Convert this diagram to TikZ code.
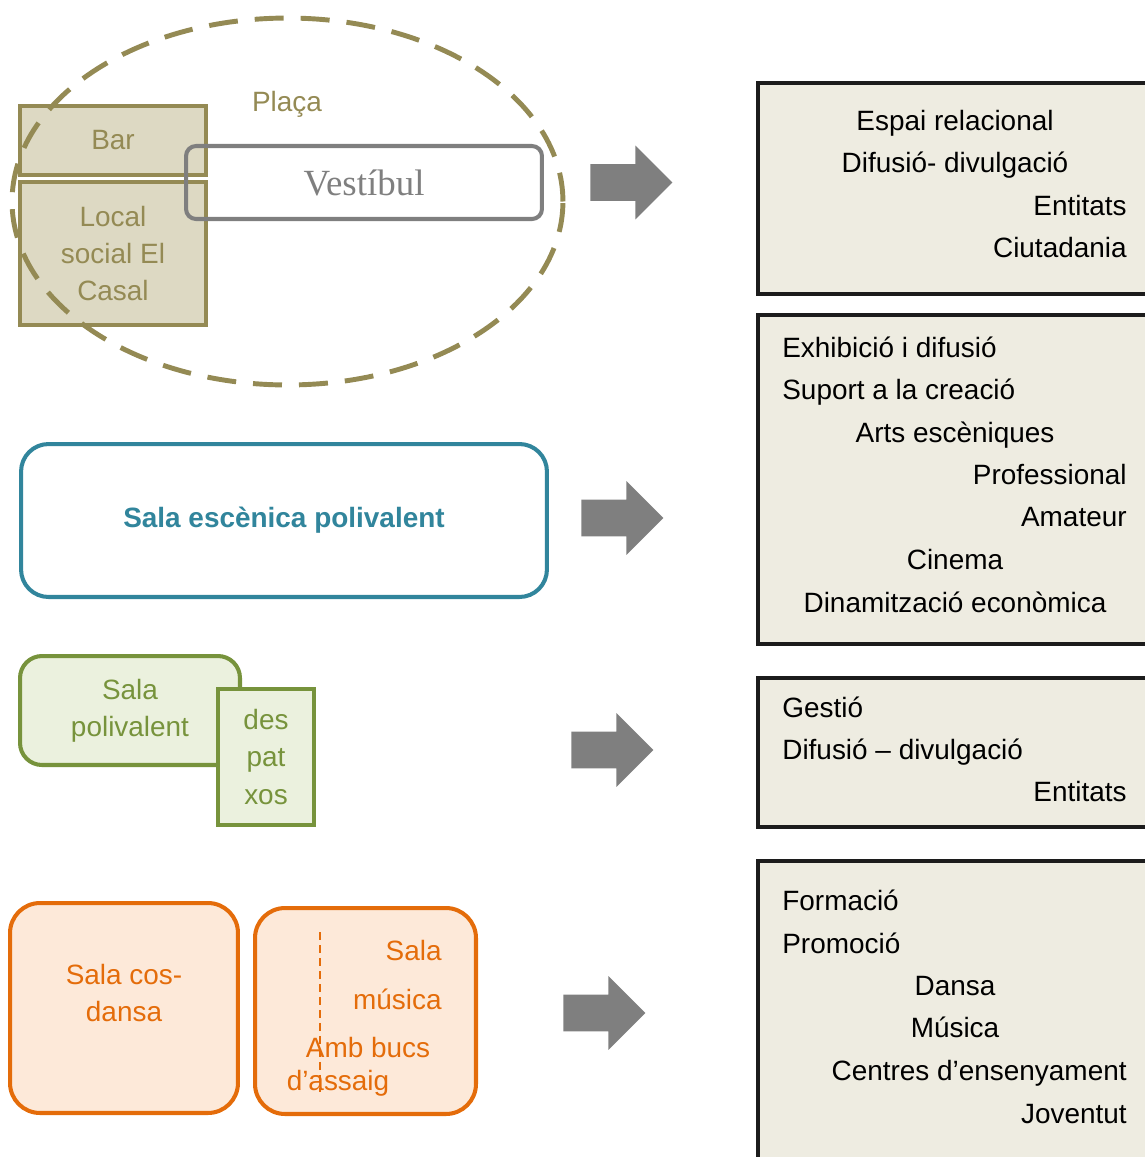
\documentclass[tikz,border=0pt]{standalone}
\usepackage{fontspec}
\setmainfont{Liberation Sans}
\newfontfamily\vestfont{Liberation Serif}
\usepackage{tikz}
\usetikzlibrary{shapes,positioning}
\definecolor{plazaline}{HTML}{948A54}
\definecolor{plazafill}{HTML}{DDD9C3}
\definecolor{hallgray}{HTML}{7F7F7F}
\definecolor{stageteal}{HTML}{31859C}
\definecolor{greenline}{HTML}{77933C}
\definecolor{greenfill}{HTML}{EBF1DE}
\definecolor{orangeline}{HTML}{E46C0A}
\definecolor{orangefill}{HTML}{FDE9D9}
\definecolor{infoline}{HTML}{1C1C1C}
\definecolor{infofill}{HTML}{EEECE1}
\newcommand{\mainsize}{\fontsize{15.9}{21.3}\selectfont}
\tikzset{room box/.style={rectangle, draw=plazaline, fill=plazafill, text=plazaline,
    line width=2.3pt, align=center}}
\tikzset{hall box/.style={rectangle, rounded corners=0.2cm, draw=hallgray, text=hallgray,
    line width=2.3pt, font=\vestfont\fontsize{21}{24}\selectfont}}
\tikzset{plaza outline/.style={ellipse, draw=plazaline, line width=2.8pt,
    dash pattern=on 0.58cm off 0.34cm}}
\tikzset{stage box/.style={rectangle, rounded corners=0.55cm, draw=stageteal, fill=white,
    text=stageteal, line width=2.3pt, font=\mainsize\bfseries}}
\tikzset{green box/.style={rectangle, draw=greenline, fill=greenfill, text=greenline,
    line width=2.3pt, align=center}}
\tikzset{orange box/.style={rectangle, rounded corners=0.6cm, draw=orangeline,
    fill=orangefill, line width=2.3pt}}
\tikzset{orange text/.style={text=orangeline, align=center, inner xsep=0pt}}
\tikzset{info box/.style={rectangle, draw=infoline, fill=infofill, line width=2.5pt}}
\tikzset{info text/.style={inner xsep=0pt}}
\tikzset{flow arrow/.style={single arrow, fill=hallgray, draw=none, anchor=tail,
    minimum height=1.64cm, inner xsep=0pt, inner ysep=0.36cm,
    single arrow head extend=0.37cm, single arrow head indent=0pt}}

\begin{document}
\begin{tikzpicture}
      [x=0.02cm, y=-0.02cm, every node/.style={font=\mainsize}]
      \useasboundingbox (0,0) rectangle (1145,1157);
      \clip (0,0) rectangle (1145,1157);

      \begin{scope}
        \node [room box, minimum width=3.72cm, minimum height=1.38cm] (bar)    at (113,140.5) {Bar};
        \node [room box, minimum width=3.72cm, minimum height=2.86cm] (casal)  at (113,253.5) {Local\\social El\\Casal};
        \node [hall box, minimum width=7.12cm, minimum height=1.46cm] (vestibul) at (364,182.5) {Vestíbul};
        \node [text=plazaline]                                          (placa)  at (287,104) {Plaça};
        \node [plaza outline, minimum width=11.02cm, minimum height=7.34cm] (plaza) at (287.5,201.5) {};
      \end{scope}

      \node [stage box, minimum width=10.52cm, minimum height=3.06cm] (escenica) at (284,520.5) {Sala escènica polivalent};

      \begin{scope}
        \node [green box, rounded corners=0.44cm, minimum width=4.4cm, minimum height=2.18cm] (polivalent) at (130,710.5) {Sala\\polivalent};
        \node [green box, minimum width=1.92cm, minimum height=2.72cm] (despatxos) at (266,757) {des\\pat\\xos};
      \end{scope}

      \begin{scope}
        \node [orange box, minimum width=4.56cm, minimum height=4.2cm]  (cosdansa) at (124,1008) {};
        \node [orange text]                                               (cosdansa text) at (124,993) {Sala cos-\\dansa};
        \node [orange box, minimum width=4.42cm, minimum height=4.12cm] (musica) at (365.5,1011) {};
        \draw [orangeline, line width=1.2pt, dash pattern=on 0.16cm off 0.1cm] (320,932) -- (320,1092);
        \node [orange text, anchor=base east] (sala)     at (442,960)  {Sala};
        \node [orange text, anchor=base east] (musica l) at (442,1009) {música};
        \node [orange text, anchor=base]      (bucs)     at (368,1057) {Amb bucs};
        \node [orange text, anchor=base]      (assaig)   at (338,1090) {d’assaig};
      \end{scope}

      \node [flow arrow] (arrow1) at (590,182.5) {};
      \node [flow arrow] (arrow2) at (581,518)   {};
      \node [flow arrow] (arrow3) at (571,750)   {};
      \node [flow arrow] (arrow4) at (563,1013)  {};

      \begin{scope}
        \node [info box, minimum width=8.2cm, minimum height=4.22cm] (info1) at (963,188.5) {};
        \node [info text, anchor=base]      (relacional) at (955,130)  {Espai relacional};
        \node [info text, anchor=base]      (difusio1)   at (955,172)  {Difusió- divulgació};
        \node [info text, anchor=base east] (entitats1)  at (1127,215) {Entitats};
        \node [info text, anchor=base east] (ciutadania) at (1127,257) {Ciutadania};
      \end{scope}

      \begin{scope}
        \node [info box, minimum width=8.2cm, minimum height=6.58cm] (info2) at (963,479.5) {};
        \node [info text, anchor=base west] (exhibicio)    at (782,357)  {Exhibició i difusió};
        \node [info text, anchor=base west] (suport)       at (782,399)  {Suport a la creació};
        \node [info text, anchor=base]      (arts)         at (955,442)  {Arts escèniques};
        \node [info text, anchor=base east] (professional) at (1127,484) {Professional};
        \node [info text, anchor=base east] (amateur)      at (1127,526) {Amateur};
        \node [info text, anchor=base]      (cinema)       at (955,569)  {Cinema};
        \node [info text, anchor=base]      (dinamitzacio) at (955,612)  {Dinamització econòmica};
      \end{scope}

      \begin{scope}
        \node [info box, minimum width=8.2cm, minimum height=2.98cm] (info3) at (963,752.5) {};
        \node [info text, anchor=base west] (gestio)    at (782,717)  {Gestió};
        \node [info text, anchor=base west] (difusio2)  at (782,759)  {Difusió – divulgació};
        \node [info text, anchor=base east] (entitats2) at (1127,801) {Entitats};
      \end{scope}

      \begin{scope}
        \node [info box, minimum width=8.2cm, minimum height=6.28cm] (info4) at (963,1018) {};
        \node [info text, anchor=base west] (formacio) at (782,910)   {Formació};
        \node [info text, anchor=base west] (promocio) at (782,953)   {Promoció};
        \node [info text, anchor=base]      (dansa)    at (955,995)   {Dansa};
        \node [info text, anchor=base]      (musica r) at (955,1037)  {Música};
        \node [info text, anchor=base east] (centres)  at (1127,1080) {Centres d’ensenyament};
        \node [info text, anchor=base east] (joventut) at (1127,1123) {Joventut};
      \end{scope}
    \end{tikzpicture}
\end{document}
